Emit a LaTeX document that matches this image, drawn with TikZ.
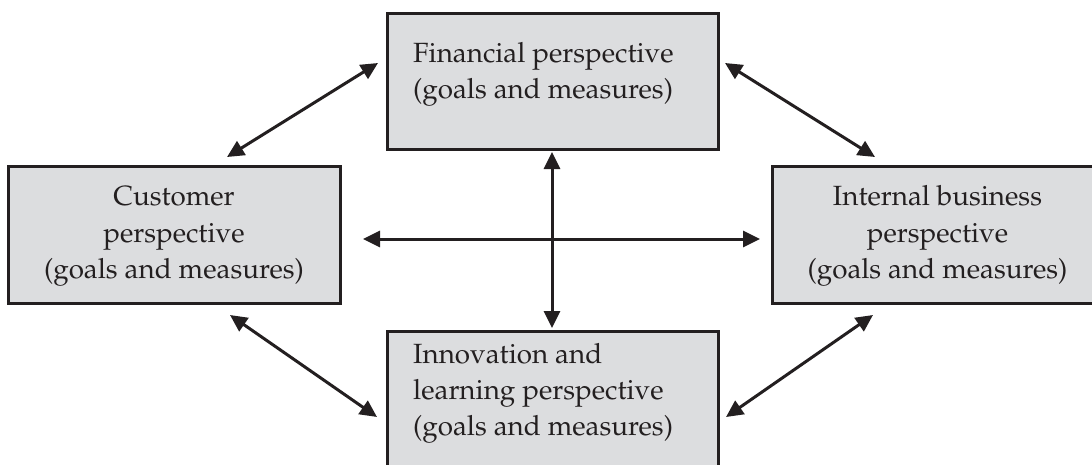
\documentclass[tikz,border=0pt]{standalone}
\usepackage[T1]{fontenc}
\usepackage{mathpazo}
\usetikzlibrary{arrows.meta}
\definecolor{boxfill}{HTML}{DCDDDF}
\definecolor{ink}{HTML}{231F20}
\tikzset{
  box/.style={draw=ink, line width=3pt, fill=boxfill},
  lbl/.style={inner sep=0pt, text=ink, font=\fontsize{27.8}{36}\selectfont},
  link/.style={draw=ink, line width=3pt, {Triangle[length=17pt,width=16pt]}-{Triangle[length=17pt,width=16pt]}}
}
\begin{document}
\begin{tikzpicture}[x=1pt,y=-1pt]
\useasboundingbox (0,0) rectangle (1092,464);
\clip (0,0) rectangle (1092,464);
% boxes
\draw[box] (387,13) rectangle (718,149);
\coordinate (fin) at (552.5,81);
\draw[box] (8,166) rectangle (340,303);
\coordinate (cust) at (174,234.5);
\draw[box] (387,331) rectangle (718,490);
\coordinate (inn) at (552.5,410);
\draw[box] (772,166) rectangle (1110,303);
\coordinate (intl) at (941,234.5);
% texts
\node[lbl, anchor=base west] (fin1) at (413,62) {Financial perspective};
\node[lbl, anchor=base west] (fin2) at (413,98) {(goals and measures)};
\node[lbl, anchor=base] (cust1) at (174,205) {Customer};
\node[lbl, anchor=base] (cust2) at (174,242) {perspective};
\node[lbl, anchor=base] (cust3) at (174,278) {(goals and measures)};
\node[lbl, anchor=base] (intl1) at (937.5,205) {Internal business};
\node[lbl, anchor=base] (intl2) at (937.5,242) {perspective};
\node[lbl, anchor=base] (intl3) at (937.5,278) {(goals and measures)};
\node[lbl, anchor=base west] (inn1) at (413,363) {Innovation and};
\node[lbl, anchor=base west] (inn2) at (413,399) {learning perspective};
\node[lbl, anchor=base west] (inn3) at (413,435) {(goals and measures)};
% connector ends
\coordinate (a1s) at (378,63);  \coordinate (a1e) at (227,157);
\coordinate (a2s) at (230,315); \coordinate (a2e) at (377,417);
\coordinate (a3s) at (725,63);  \coordinate (a3e) at (875,157);
\coordinate (a4s) at (873,315); \coordinate (a4e) at (726,417);
\coordinate (hs) at (363,239);  \coordinate (he) at (760,239);
\coordinate (vs) at (552,152);  \coordinate (ve) at (552,328);
\draw[link] (a1s) -- (a1e);
\draw[link] (a2s) -- (a2e);
\draw[link] (a3s) -- (a3e);
\draw[link] (a4s) -- (a4e);
\draw[link] (hs) -- (he);
\draw[link] (vs) -- (ve);
\end{tikzpicture}
\end{document}
